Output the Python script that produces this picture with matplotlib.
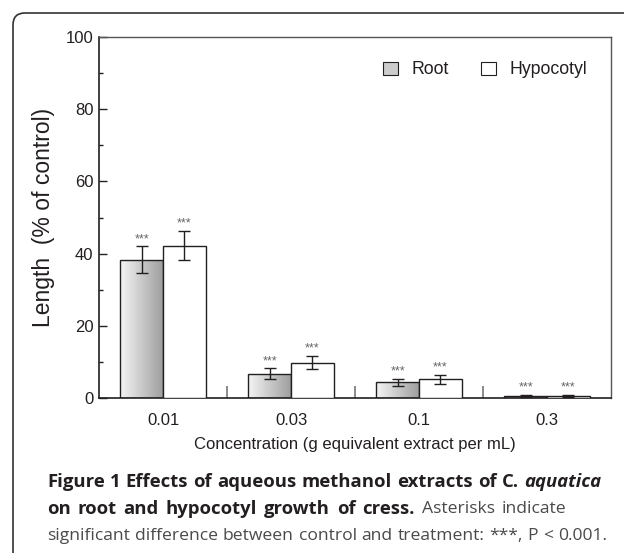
import numpy as np
import matplotlib
matplotlib.use("Agg")
import matplotlib.pyplot as plt
from matplotlib.patches import Patch, PathPatch
from matplotlib.path import Path

# ---------------- data ----------------
categories = ["0.01", "0.03", "0.1", "0.3"]
series_names = ["Root", "Hypocotyl"]
root_vals = [38.3, 6.7, 4.3, 0.6]
root_err = [3.7, 1.5, 1.1, 0.3]
hypo_vals = [42.2, 9.8, 5.2, 0.5]
hypo_err = [4.1, 1.8, 1.2, 0.3]
sig_labels = ["***", "***", "***", "***"]
y_ticks = [0, 20, 40, 60, 80, 100]

plt.rcParams['font.family'] = ['Liberation Sans', 'DejaVu Sans']

W, H = 624, 553
fig = plt.figure(figsize=(W / 100, H / 100), dpi=100)
ax = fig.add_axes([99 / W, 1 - 398 / H, 512 / W, 361 / H])

x = np.arange(len(categories))
bw = 0.335
dark = "#231f20"

root_bars = ax.bar(x - bw / 2, root_vals, bw, facecolor="none", edgecolor=dark,
                   linewidth=1.0, zorder=3)
hypo_bars = ax.bar(x + bw / 2, hypo_vals, bw, facecolor="white", edgecolor=dark,
                   linewidth=1.0, zorder=3)
grad = np.linspace(0.96, 0.62, 256).reshape(1, -1)
for b in root_bars:
    x0, y0 = b.get_x(), b.get_y()
    w, h = b.get_width(), b.get_height()
    im = ax.imshow(grad, cmap="gray", vmin=0, vmax=1, aspect="auto",
                   extent=[x0, x0 + w, y0, y0 + h], zorder=2, interpolation="bilinear")
    im.set_clip_path(b)

ax.errorbar(x - bw / 2, root_vals, yerr=root_err, fmt="none", ecolor=dark,
            elinewidth=1.0, capsize=4, capthick=1.0, zorder=4)
ax.errorbar(x + bw / 2, hypo_vals, yerr=hypo_err, fmt="none", ecolor=dark,
            elinewidth=1.0, capsize=4, capthick=1.0, zorder=4)

for xs, vals, errs in [(x - bw / 2, root_vals, root_err), (x + bw / 2, hypo_vals, hypo_err)]:
    for xi, v, e, s in zip(xs, vals, errs, sig_labels):
        ax.annotate(s, (xi, v + e), xytext=(0, 1), textcoords="offset points",
                    ha="center", va="bottom", fontsize=9, color="#666666")

ax.set_xlim(-0.5, len(categories) - 0.5)
ax.set_ylim(0, 100)
ax.set_yticks(y_ticks)
ax.set_yticks([10, 30, 50, 70, 90], minor=True)
ax.set_xticks(x)
ax.set_xticklabels(categories)
ax.set_xticks(x[:-1] + 0.5, minor=True)
ax.tick_params(axis="y", which="major", direction="in", length=6, width=1.0,
               labelsize=12, pad=4, colors=dark)
ax.tick_params(axis="y", which="minor", direction="in", length=3, width=1.0, colors=dark)
ax.tick_params(axis="x", which="major", length=0, labelsize=12, pad=11, colors=dark)
ax.tick_params(axis="x", which="minor", direction="in", length=9, width=1.2, color="#777777")

for side in ["left", "bottom"]:
    ax.spines[side].set_color(dark)
    ax.spines[side].set_linewidth(1.2)
for side in ["top", "right"]:
    ax.spines[side].set_color("#555555")
    ax.spines[side].set_linewidth(1.0)

ax.set_ylabel("Length  (% of control)", fontsize=16.5, color=dark, labelpad=8)
ax.set_xlabel("Concentration (g equivalent extract per mL)", fontsize=12, color=dark,
              labelpad=6)

handles = [Patch(facecolor="#cccccc", edgecolor=dark, linewidth=0.8, label=series_names[0]),
           Patch(facecolor="white", edgecolor=dark, linewidth=0.8, label=series_names[1])]
ax.legend(handles=handles, ncol=2, frameon=False, loc="center right",
          bbox_to_anchor=((587 - 99) / 512, (398 - 70) / 361), borderpad=0,
          borderaxespad=0, handlelength=0.85, handleheight=0.75, handletextpad=0.75,
          columnspacing=1.85, fontsize=12.7, labelcolor=dark)

# ---------------- frame ----------------
r = 12
x_l = 13
y_t = 13
verts = [(x_l / 100, 0), (x_l / 100, (H - y_t - r) / 100), (x_l / 100, (H - y_t) / 100),
         ((x_l + r) / 100, (H - y_t) / 100), (W / 100, (H - y_t) / 100)]
codes = [Path.MOVETO, Path.LINETO, Path.CURVE3, Path.CURVE3, Path.LINETO]
fig.add_artist(PathPatch(Path(verts, codes), transform=fig.dpi_scale_trans,
                         facecolor="none", edgecolor="#333333", linewidth=1.2))

# ---------------- caption ----------------
cap_font = ['Open Sans', 'DejaVu Sans']
bold_c = "#231f20"
reg_c = "#4a4a4a"
fs_b = 13.3
fs_r = 12.6
B = ("bold", "normal", bold_c, fs_b)
BI = ("bold", "italic", bold_c, fs_b)
R = ("normal", "normal", reg_c, fs_r)


def words(s, st):
    return [(w, st) for w in s.split(" ")]


lines = [
    words("Figure 1 Effects of aqueous methanol extracts of C.", B) + words("aquatica", BI),
    words("on root and hypocotyl growth of cress.", B) + words("Asterisks indicate", R),
    words("significant difference between control and treatment: ***, P < 0.001.", R),
]
line_y = [482, 509, 536]
line_end = [601, 566, 607]
x_start = 47
fig.canvas.draw()
renderer = fig.canvas.get_renderer()
for toks, yy, xe in zip(lines, line_y, line_end):
    texts = []
    widths = []
    for wd, (wgt, sty, col, fsz) in toks:
        t = fig.text(0, 1 - yy / H, wd, fontsize=fsz, fontweight=wgt, fontstyle=sty,
                     color=col, family=cap_font, ha="left", va="center")
        texts.append(t)
        widths.append(t.get_window_extent(renderer).width)
    gap = (xe - x_start - sum(widths)) / max(len(toks) - 1, 1)
    xp = x_start
    for t, wd in zip(texts, widths):
        t.set_x(xp / W)
        xp += wd + gap

fig.savefig("out.png", dpi=100)
